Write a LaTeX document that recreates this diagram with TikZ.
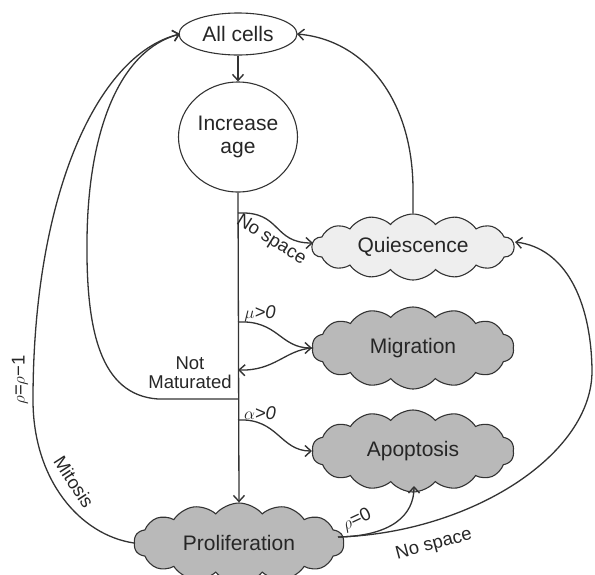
\documentclass[tikz,border=0pt]{standalone}
\usepackage{fontspec}
\setmainfont{Liberation Sans}
\usetikzlibrary{shapes.symbols,shapes.geometric,arrows.meta}
\definecolor{ink}{HTML}{333333}
\definecolor{lightcloud}{HTML}{EEEEEE}
\definecolor{darkcloud}{HTML}{B9B9B9}
\tikzset{
  arr/.style={draw=ink, line width=1.3pt, -{Straight Barb[length=6pt,width=11pt,line width=1.4pt]}},
  ln/.style={draw=ink, line width=1.3pt},
  oval/.style={ellipse, draw=ink, line width=1.1pt, fill=white, inner sep=0pt, font=\fontsize{21}{23}\selectfont, text=black!85, align=center},
  cl/.style={cloud, cloud puffs=14, cloud puff arc=100, cloud ignores aspect, draw=ink, line width=1.1pt, inner sep=0pt, font=\fontsize{21}{23}\selectfont, text=black!85},
  lbl/.style={font=\fontsize{18.5}{21}\selectfont, text=black!85, inner sep=0pt}
}
\begin{document}
\begin{tikzpicture}[x=1pt,y=-1pt]
\useasboundingbox (0,0) rectangle (595,574);
% nodes
\node[oval, minimum width=118, minimum height=42] (all) at (238,34) {All cells};
\node[oval, minimum width=119, minimum height=110] (inc) at (238,137) {Increase\\age};
\node[cl, fill=lightcloud, minimum width=202, minimum height=66] (qui) at (413,247) {Quiescence};
\node[cl, fill=darkcloud, minimum width=202, minimum height=82] (mig) at (413,348) {Migration};
\node[cl, fill=darkcloud, minimum width=202, minimum height=82] (apo) at (413,451) {Apoptosis};
\node[cl, fill=darkcloud, minimum width=210, minimum height=80] (pro) at (239,543) {Proliferation};
% branch points
\coordinate (ns) at (238,213);
\coordinate (mu) at (238,322);
\coordinate (mb) at (238,370);
\coordinate (nm) at (238,399);
\coordinate (nmc) at (158,399);
\coordinate (al) at (238,420);
\coordinate (pe) at (338,537);
\coordinate (qw) at (313,243);
\coordinate (mw) at (312,348);
\coordinate (aw) at (312,451);
\coordinate (ab) at (414,486);
\coordinate (qe) at (515,242);
\coordinate (ae) at (180,34);
\coordinate (aee) at (297,34);
% edges
\draw[arr] (all.south) -- (inc.north);
\draw[arr] (inc.south) -- (pro.north);
\draw[arr] (ns) .. controls (282,211) and (272,243) .. (qw);
\draw[arr] (qui.north) -- (413,190) .. controls (413,100) and (365,40) .. (aee);
\draw[arr] (mu) .. controls (278,320) and (280,348) .. (mw);
\draw[arr] (mw) .. controls (285,350) and (275,371) .. (mb);
\draw[arr] (al) .. controls (278,418) and (280,451) .. (aw);
\draw[arr] (nm) -- (nmc) .. controls (100,395) and (86,330) .. (87,240) .. controls (88,130) and (120,50) .. (ae);
\draw[arr] (pro.west) .. controls (80,535) and (33,480) .. (33,400) .. controls (33,200) and (95,55) .. (ae);
\draw[arr] (pe) .. controls (392,536) and (414,515) .. (ab);
\draw[arr] (pe) .. controls (470,533) and (593,455) .. (592,370) .. controls (591,300) and (565,248) .. (qe);
% labels
\node[lbl, rotate=-32] (lns) at (271,240) {No space};
\node[lbl] (lmu) at (260,314) {$\mu$\textit{>0}};
\node[lbl] (lal) at (260,413) {$\alpha$\textit{>0}};
\node[lbl, align=center] (lnm) at (190,373) {Not\\[-2pt]Maturated};
\node[lbl, rotate=90] (lrho) at (20,380) {$\rho$=$\rho$−1};
\node[lbl, rotate=-57] (lmit) at (74,482) {Mitosis};
\node[lbl, rotate=25] (lr0) at (357,520) {$\rho$=0};
\node[lbl, rotate=15] (lns2) at (434,545) {No space};
\end{tikzpicture}
\end{document}
